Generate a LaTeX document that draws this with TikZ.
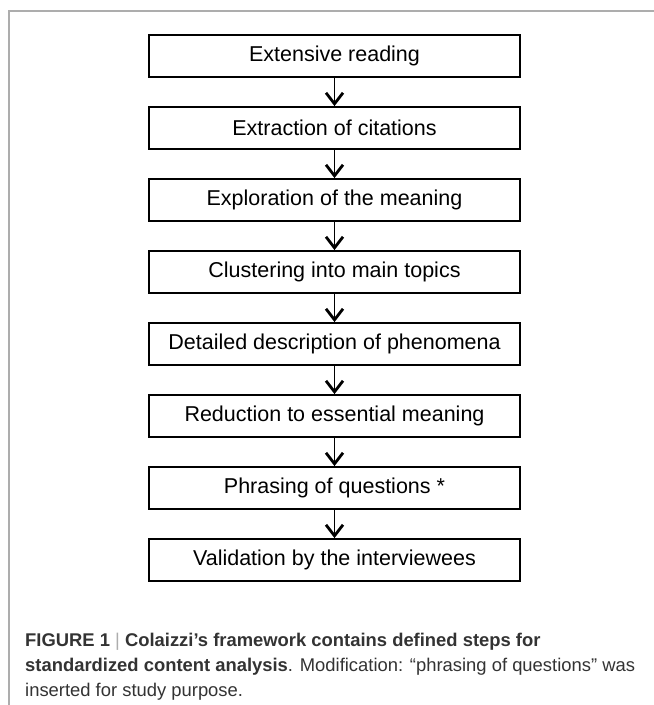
\documentclass[tikz,border=0pt]{standalone}
\usepackage{fontspec}
\setmainfont{Liberation Sans}
\usetikzlibrary{arrows.meta}
\definecolor{captxt}{gray}{0.2}
\definecolor{framegray}{gray}{0.68}
\tikzset{
  stepbox/.style={draw=black, line width=1.8pt, minimum width=371pt, minimum height=42pt,
    inner sep=0pt, font=\fontsize{21.5}{25}\selectfont, text=black},
  flowarrow/.style={draw=black, line width=1.1pt,
    -{Straight Barb[length=11pt,width=17pt,line width=2.8pt]}}
}
\begin{document}
\begin{tikzpicture}[x=1pt,y=-1pt]
\useasboundingbox (0,0) rectangle (654,705);
\fill[white] (0,0) rectangle (654,705);
% frame
\draw[framegray, line width=1.5pt] (9,705) -- (9,11) -- (654,11);
% boxes
\node[stepbox] (s1) at (334.5,56) {Extensive reading};
\node[stepbox] (s2) at (334.5,128) {Extraction of citations};
\node[stepbox] (s3) at (334.5,200) {Exploration of the meaning};
\node[stepbox] (s4) at (334.5,272) {Clustering into main topics};
\node[stepbox] (s5) at (334.5,344) {Detailed description of phenomena};
\node[stepbox] (s6) at (334.5,416) {Reduction to essential meaning};
\node[stepbox] (s7) at (334.5,488) {Phrasing of questions *};
\node[stepbox] (s8) at (334.5,560) {Validation by the interviewees};
\foreach \a/\b in {s1/s2,s2/s3,s3/s4,s4/s5,s5/s6,s6/s7,s7/s8}
  \draw[flowarrow] (\a.south) -- (\b.north);
% caption
\node[anchor=base west, inner sep=0pt, align=left, text=captxt,
      font=\fontsize{18.4}{25}\selectfont] (cap) at (25,696)
  {\textbf{FIGURE 1} {\color{framegray}|} \textbf{Colaizzi’s framework contains defined steps for}\\
   \textbf{standardized content analysis}. Modification: “phrasing of questions” was\\
   inserted for study purpose.};
\end{tikzpicture}
\end{document}
